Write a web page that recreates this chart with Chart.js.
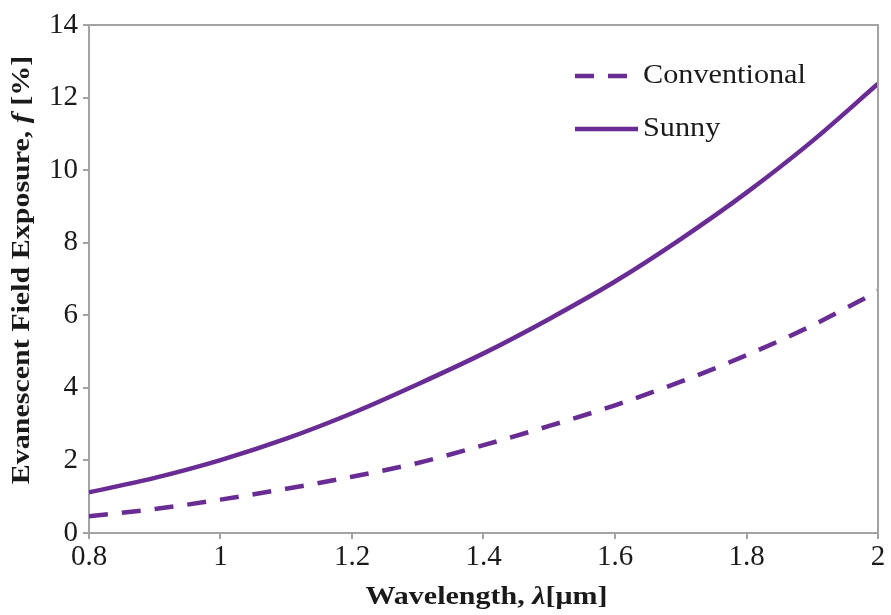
<!DOCTYPE html>
<html>
<head>
<meta charset="utf-8">
<script src="https://cdn.jsdelivr.net/npm/chart.js@4.4.1/dist/chart.umd.min.js"></script>
<style>
  html, body { margin: 0; padding: 0; background: #fff; }
  #wrap { width: 891px; height: 615px; position: relative; }
</style>
</head>
<body>
<div id="wrap"><canvas id="c" width="891" height="615"></canvas></div>
<script>
// Wavelength samples in micrometres
const wavelength = [0.8, 0.9, 1.0, 1.1, 1.2, 1.3, 1.4, 1.5, 1.6, 1.7, 1.8, 1.9, 2.0];
// Evanescent field exposure f [%]
const conventional = [0.46, 0.66, 0.92, 1.22, 1.55, 1.93, 2.42, 2.95, 3.52, 4.17, 4.90, 5.72, 6.66];
const sunny        = [1.12, 1.52, 2.01, 2.60, 3.30, 4.10, 4.95, 5.90, 6.93, 8.10, 9.38, 10.80, 12.38];
const seriesNames = ['Conventional', 'Sunny'];
const xTicks = [0.8, 1.0, 1.2, 1.4, 1.6, 1.8, 2.0];
const yTicks = [0, 2, 4, 6, 8, 10, 12, 14];

const PURPLE = '#682c94';
const AXIS = '#a3a3a3';
const INK = '#1a1a1a';
const SERIF = '"Liberation Serif", "DejaVu Serif", serif';

const toPoints = (ys) => wavelength.map((x, i) => ({ x, y: ys[i] }));

// Draws a sequence of differently styled text runs centred on (cx, cy),
// stretched along the reading direction by `stretch`.
function drawRuns(ctx, runs, cx, cy, stretch, align) {
  let total = 0;
  runs.forEach(r => { ctx.font = r.font; r.w = ctx.measureText(r.t).width; total += r.w; });
  ctx.save();
  ctx.translate(cx, cy);
  ctx.scale(stretch, 1);
  let x = align === 'left' ? 0 : -total / 2;
  ctx.textBaseline = 'middle';
  ctx.textAlign = 'left';
  runs.forEach(r => { ctx.font = r.font; ctx.fillText(r.t, x, 0); x += r.w; });
  ctx.restore();
}

// Legend drawn inside the plot, upper right
const legendPlugin = {
  id: 'insideLegend',
  afterDatasetsDraw(chart) {
    const ctx = chart.ctx;
    const x0 = 575, x1 = 638;
    const rows = [76, 129];
    chart.data.datasets.forEach((ds, i) => {
      const y = rows[i];
      ctx.save();
      ctx.strokeStyle = ds.borderColor;
      ctx.lineWidth = ds.borderWidth;
      ctx.setLineDash(ds.borderDash || []);
      ctx.beginPath();
      ctx.moveTo(x0, y);
      ctx.lineTo(x1, y);
      ctx.stroke();
      ctx.setLineDash([]);
      ctx.fillStyle = INK;
      drawRuns(ctx, [{ t: ds.label, font: '28px ' + SERIF }], 643, y, 1.08, 'left');
      ctx.restore();
    });
  }
};

// Top and right frame lines plus rich-text axis titles
const framePlugin = {
  id: 'frameAndTitles',
  afterDraw(chart) {
    const { ctx, chartArea: a } = chart;
    ctx.save();
    ctx.strokeStyle = AXIS;
    ctx.lineWidth = 2;
    ctx.beginPath();
    ctx.moveTo(a.left, a.top);
    ctx.lineTo(a.right, a.top);
    ctx.lineTo(a.right, a.bottom);
    ctx.stroke();

    ctx.fillStyle = INK;
    const bold = 'bold 25px ' + SERIF;
    const boldIt = 'italic bold 25px ' + SERIF;
    // x title
    drawRuns(ctx, [
      { t: 'Wavelength, ', font: bold },
      { t: 'λ', font: boldIt },
      { t: '[μm]', font: bold }
    ], (a.left + a.right) / 2 + 3, 598, 1.2);
    // y title (rotated)
    ctx.save();
    ctx.translate(23, (a.top + a.bottom) / 2 - 9);
    ctx.rotate(-Math.PI / 2);
    drawRuns(ctx, [
      { t: 'Evanescent Field Exposure, ', font: bold },
      { t: 'f', font: boldIt },
      { t: ' [%]', font: bold }
    ], 0, 0, 1.2);
    ctx.restore();
    ctx.restore();
  }
};

new Chart(document.getElementById('c'), {
  type: 'line',
  data: {
    datasets: [
      {
        label: seriesNames[0],
        data: toPoints(conventional),
        borderColor: PURPLE,
        borderWidth: 4.5,
        borderDash: [19, 14],
        pointRadius: 0,
        cubicInterpolationMode: 'monotone',
        fill: false
      },
      {
        label: seriesNames[1],
        data: toPoints(sunny),
        borderColor: PURPLE,
        borderWidth: 4.5,
        pointRadius: 0,
        cubicInterpolationMode: 'monotone',
        fill: false
      }
    ]
  },
  options: {
    responsive: false,
    animation: false,
    layout: { padding: { left: 0, right: 13, top: 25, bottom: 0 } },
    plugins: {
      legend: { display: false },
      tooltip: { enabled: false }
    },
    scales: {
      x: {
        type: 'linear',
        min: 0.8,
        max: 2.0,
        afterBuildTicks: (s) => { s.ticks = xTicks.map(v => ({ value: v })); },
        afterFit: (s) => { s.height = 82; },
        ticks: {
          color: INK,
          font: { family: SERIF, size: 29 },
          padding: 1,
          maxRotation: 0,
          callback: (v) => String(Number(v.toFixed(1)))
        },
        grid: { display: true, drawOnChartArea: false, drawTicks: true, tickLength: 6, color: AXIS, lineWidth: 2 },
        border: { display: true, color: AXIS, width: 2 }
      },
      y: {
        type: 'linear',
        min: 0,
        max: 14,
        afterBuildTicks: (s) => { s.ticks = yTicks.map(v => ({ value: v })); },
        afterFit: (s) => { s.width = 89; },
        ticks: {
          color: INK,
          font: { family: SERIF, size: 29 },
          padding: 5
        },
        grid: { display: true, drawOnChartArea: false, drawTicks: true, tickLength: 6, color: AXIS, lineWidth: 2 },
        border: { display: true, color: AXIS, width: 2 }
      }
    }
  },
  plugins: [legendPlugin, framePlugin]
});
</script>
</body>
</html>
